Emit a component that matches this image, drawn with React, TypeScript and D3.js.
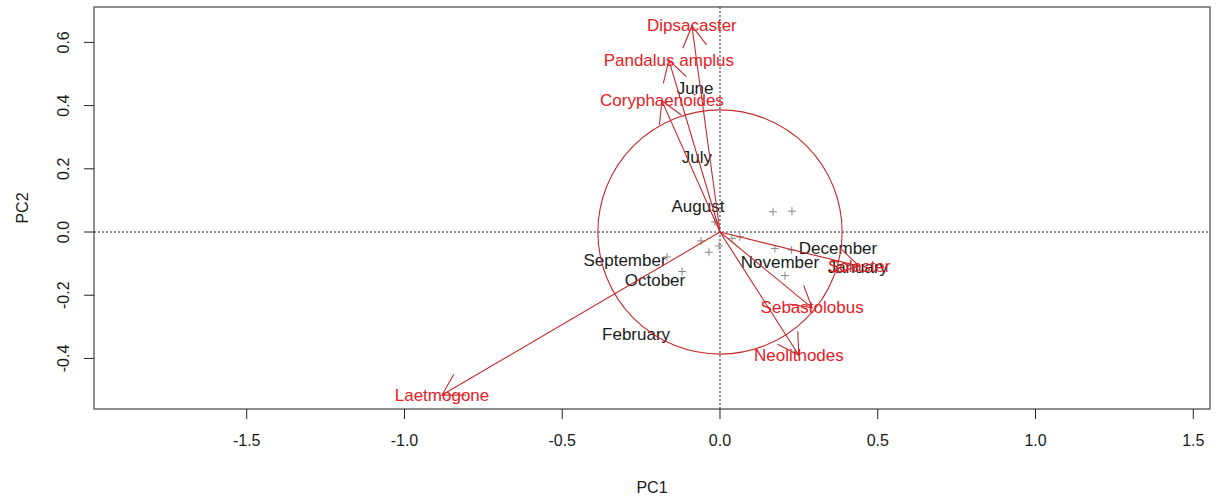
import React from "react";
import * as d3 from "d3";

// Observations (months) – biplot scores
const months = ["June", "July", "August", "September", "October", "February", "November", "December", "January"];
const monthPC1 = [-0.079, -0.073, -0.07, -0.301, -0.206, -0.266, 0.19, 0.374, 0.437];
const monthPC2 = [0.453, 0.237, 0.082, -0.089, -0.152, -0.323, -0.095, -0.051, -0.111];

// Variables (species) – loadings
const species = ["Dipsacaster", "Pandalus amplus", "Coryphaenoides", "Laetmogone", "Sebastolobus", "Neolithodes", "Solaster"];
const speciesPC1 = [-0.089, -0.162, -0.184, -0.881, 0.292, 0.25, 0.441];
const speciesPC2 = [0.652, 0.544, 0.415, -0.516, -0.24, -0.39, -0.108];

// Extra points (+)
const pointsPC1 = [0.168, 0.228, -0.06, -0.003, -0.035, 0.038, 0.063, 0.174, 0.227, -0.12, 0.206, -0.016, -0.168];
const pointsPC2 = [0.064, 0.066, -0.028, -0.044, -0.064, -0.02, -0.015, -0.052, -0.057, -0.125, -0.138, 0.032, -0.079];

const circleRadius = 0.387;

const xTicks = [-1.5, -1.0, -0.5, 0.0, 0.5, 1.0, 1.5];
const yTicks = [-0.4, -0.2, 0.0, 0.2, 0.4, 0.6];
const xDomain = [-1.984, 1.553];
const yDomain = [-0.56, 0.712];

const W = 1217;
const H = 497;
const box = { left: 94, right: 1210, top: 7, bottom: 409 };

const FONT = "'Liberation Sans', Arial, sans-serif";
const LINE_RED = "#c42a2e";
const TEXT_RED = "#e8201f";

export default function App() {
  const x = d3.scaleLinear().domain(xDomain).range([box.left, box.right]);
  const y = d3.scaleLinear().domain(yDomain).range([box.bottom, box.top]);
  const fmt = (v: number) => d3.format(".1f")(v).replace("\u2212", "-");

  const circlePath = d3.path();
  circlePath.arc(x(0), y(0), x(circleRadius) - x(0), 0, Math.PI * 2);

  const headLen = 24;
  const headAng = Math.PI / 6;

  const arrows = species.map((name, i) => {
    const x0 = x(0), y0 = y(0);
    const x1 = x(speciesPC1[i]), y1 = y(speciesPC2[i]);
    const ang = Math.atan2(y1 - y0, x1 - x0);
    const a1 = ang + Math.PI - headAng;
    const a2 = ang + Math.PI + headAng;
    const p = d3.path();
    p.moveTo(x0, y0);
    p.lineTo(x1, y1);
    p.moveTo(x1 + headLen * Math.cos(a1), y1 + headLen * Math.sin(a1));
    p.lineTo(x1, y1);
    p.lineTo(x1 + headLen * Math.cos(a2), y1 + headLen * Math.sin(a2));
    return { name, d: p.toString(), x1, y1 };
  });

  return (
    <svg width={W} height={H} style={{ position: "absolute", left: 0, top: 0, background: "#fff" }} fontFamily={FONT}>
      <rect x={0} y={0} width={W} height={H} fill="#fff" />
      {/* reference lines */}
      <line x1={box.left} x2={box.right} y1={y(0)} y2={y(0)} stroke="#222" strokeWidth={1} strokeDasharray="2,2" />
      <line x1={x(0)} x2={x(0)} y1={box.top} y2={box.bottom} stroke="#222" strokeWidth={1} strokeDasharray="2,2" />

      {/* month labels */}
      {months.map((m, i) => (
        <text key={m} x={x(monthPC1[i])} y={y(monthPC2[i])} fontSize={17} fill="#1a1a1a" textAnchor="middle" dominantBaseline="central">
          {m}
        </text>
      ))}

      {/* + points */}
      {pointsPC1.map((px, i) => {
        const cx = x(px), cy = y(pointsPC2[i]);
        return (
          <path key={i} d={`M${cx - 4},${cy}H${cx + 4}M${cx},${cy - 4}V${cy + 4}`} stroke="#8a8a8a" strokeWidth={1} fill="none" />
        );
      })}

      {/* arrows */}
      {arrows.map((a) => (
        <path key={a.name} d={a.d} stroke={LINE_RED} strokeWidth={1.1} fill="none" />
      ))}
      {arrows.map((a) => (
        <text key={a.name + "-t"} x={a.x1} y={a.y1} fontSize={17} fill={TEXT_RED} textAnchor="middle" dominantBaseline="central">
          {a.name}
        </text>
      ))}

      {/* circle */}
      <path d={circlePath.toString()} stroke={LINE_RED} strokeWidth={1.1} fill="none" />

      {/* box */}
      <rect x={box.left} y={box.top} width={box.right - box.left} height={box.bottom - box.top} fill="none" stroke="#444" strokeWidth={1.2} />

      {/* x axis */}
      {xTicks.map((t) => (
        <g key={"x" + t}>
          <line x1={x(t)} x2={x(t)} y1={box.bottom} y2={box.bottom + 10} stroke="#222" />
          <text x={x(t)} y={440} fontSize={16} fill="#1a1a1a" textAnchor="middle" dominantBaseline="central">
            {fmt(t)}
          </text>
        </g>
      ))}
      {/* y axis */}
      {yTicks.map((t) => (
        <g key={"y" + t}>
          <line x1={box.left - 10} x2={box.left} y1={y(t)} y2={y(t)} stroke="#222" />
          <text transform={`translate(63,${y(t)}) rotate(-90)`} fontSize={16} fill="#1a1a1a" textAnchor="middle" dominantBaseline="central">
            {fmt(t)}
          </text>
        </g>
      ))}
      <text x={(box.left + box.right) / 2} y={487} fontSize={16} fill="#1a1a1a" textAnchor="middle" dominantBaseline="central">
        PC1
      </text>
      <text transform={`translate(22,${(box.top + box.bottom) / 2}) rotate(-90)`} fontSize={16} fill="#1a1a1a" textAnchor="middle" dominantBaseline="central">
        PC2
      </text>
    </svg>
  );
}
